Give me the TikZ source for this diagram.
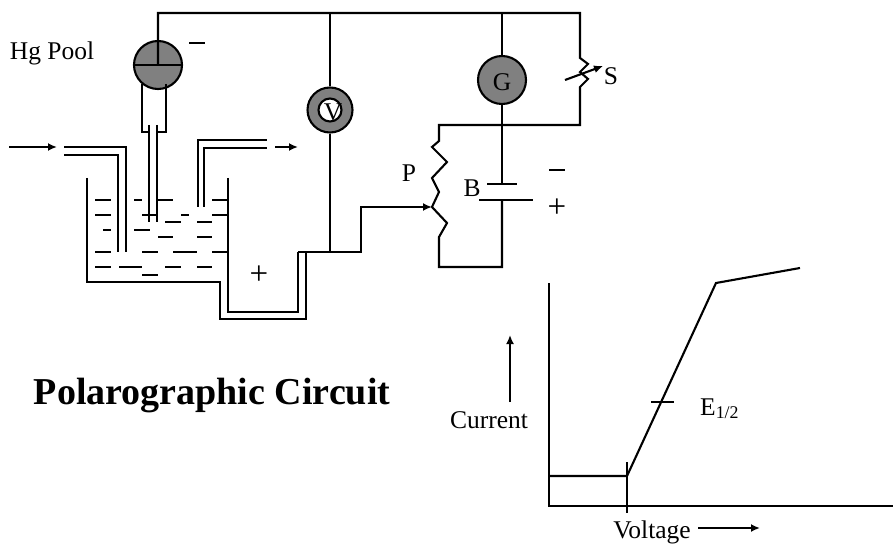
\documentclass[tikz,border=0pt]{standalone}
\usepackage{amsmath}
\usepackage{fontspec}
\setmainfont{Liberation Serif}
\usetikzlibrary{arrows.meta}
\usetikzlibrary{positioning}
\definecolor{meterfill}{gray}{0.5}
\tikzset{
	wire/.style={line width=2.1pt, line join=miter},
	flow/.style={wire, -{Latex[length=9pt,width=8pt]}},
	meter/.style={circle, draw, line width=2.1pt, fill=meterfill, minimum size=#1, inner sep=0pt},
	tag/.style={anchor=base, inner sep=0pt, font=\fontsize{25.5}{28}\selectfont},
	sign/.style={inner sep=0pt, font=\fontsize{33}{33}\selectfont}
}
\begin{document}
\begin{tikzpicture}[x=1pt, y=-1pt]
		 \useasboundingbox (0,0) rectangle (893,545);

		 % meters
		 \node [meter=48pt] (hg) at (158,65) {};
		 \node [meter=45pt] (v) at (330,110) {};
		 \node [circle, draw, fill=white, line width=2.1pt, minimum size=23pt, inner sep=0pt] (vin) at (v.center) {};
		 \node [tag] (vtext) at (333,121) {V};
		 \node [meter=48pt] (g) at (502,80) {};
		 \node [tag] (gtext) at (502,91) {G};

		 % circuit corners
		 \coordinate (tl) at (158,13);
		 \coordinate (tv) at (330,13);
		 \coordinate (tg) at (502,13);
		 \coordinate (tr) at (580,13);
		 \coordinate (bv) at (330,252);
		 \coordinate (step) at (361,252);
		 \coordinate (wiper) at (432,207);
		 \coordinate (pt) at (439,125);
		 \coordinate (mid) at (502,125);
		 \coordinate (sb) at (580,125);
		 \coordinate (pb) at (439,267);
		 \coordinate (bb) at (502,267);
		 \coordinate (neg) at (502,184);
		 \coordinate (pos) at (502,200);

		 \draw [wire] (hg.center) -- (tl) -- (tr) -- (580,58) -- (588,64) -- (580,72) -- (588,79) -- (580,87) -- (sb) -- (pt)
		 	-- (439,141) -- (432,147) -- (447,162) -- (432,178) -- (439,192) -- (wiper) -- (447,223) -- (439,237) -- (pb) -- (bb) -- (pos);
		 \draw [wire] (hg.west) -- (hg.east);
		 \draw [wire] (tv) -- (v);
		 \draw [wire] (v) -- (bv);
		 \draw [wire] (tg) -- (g);
		 \draw [wire] (g) -- (mid) -- (neg);
		 \draw [wire] (487,184) -- (517,184);
		 \draw [wire] (479,200) -- (533,200);
		 \draw [wire] (298,252) -- (step) -- (361,207) -- (426,207);
		 \draw [flow] (361,207) -- (wiper);
		 \draw [flow] (565,80) -- (603,66);

		 % cell
		 \draw [wire] (87,178) -- (87,282) -- (220,282) -- (220,319) -- (306,319) -- (306,252);
		 \draw [wire] (228,178) -- (228,312) -- (298,312) -- (298,252);
		 \draw [wire] (142,84) -- (142,132) -- (149,132);
		 \draw [wire] (166,84) -- (166,132) -- (157,132);
		 \draw [wire] (149,125) -- (149,222);
		 \draw [wire] (157,125) -- (157,222);
		 \draw [wire] (64,147) -- (126,147) -- (126,252);
		 \draw [wire] (64,155) -- (118,155) -- (118,252);
		 \draw [wire] (198,207) -- (198,140) -- (267,140);
		 \draw [wire] (204,207) -- (204,148) -- (267,148);
		 \draw [flow] (9,147) -- (57,147);
		 \draw [flow] (275,147) -- (298,147);

		 % mercury pool
		 \foreach \xa/\xb/\yy in {95/111/200, 134/142/200, 158/173/200, 212/228/200,
		 	95/111/215, 142/157/215, 181/189/215, 212/228/215,
		 	165/181/222, 197/212/222,
		 	103/111/230, 134/150/230,
		 	158/173/237, 197/212/237,
		 	95/111/252, 142/158/252, 173/197/252, 212/228/252,
		 	95/111/267, 119/142/267, 165/181/267, 197/212/267,
		 	142/158/275}
		 	\draw [wire] (\xa,\yy) -- (\xb,\yy);

		 % labels
		 \node [tag] (hgpool) at (52,60) {Hg Pool};
		 \node [tag] (plabel) at (409,182) {P};
		 \node [tag] (blabel) at (472,197) {B};
		 \node [tag] (slabel) at (611,85) {S};
		 \draw [wire] (189,43) -- (205,43);
		 \draw [wire] (549,170) -- (565,170);
		 \node [sign] (cellplus) at (259,275) {+};
		 \node [sign] (batplus) at (557,208) {+};
		 \node [anchor=base, inner sep=0pt, font=\fontsize{38}{42}\selectfont\bfseries] (title) at (212,404) {Polarographic Circuit};

		 % graph
		 \coordinate (ytop) at (549,283);
		 \coordinate (org) at (549,506);
		 \coordinate (xend) at (893,506);
		 \coordinate (foot) at (627,476);
		 \coordinate (knee) at (716,283);
		 \draw [wire] (ytop) -- (org) -- (xend);
		 \draw [wire] (549,476) -- (foot) -- (knee) -- (800,268);
		 \draw [wire] (627,462) -- (627,513);
		 \draw [wire] (651,402) -- (674,402);
		 \draw [flow] (510,402) -- (510,335);
		 \draw [flow] (698,528) -- (760,528);
		 \node [tag] (current) at (489,428) {Current};
		 \node [tag] (voltage) at (652,538) {Voltage};
		 \node [tag, anchor=base west] (ehalf) at (700,415) {E\textsubscript{1/2}};
\end{tikzpicture}
\end{document}
